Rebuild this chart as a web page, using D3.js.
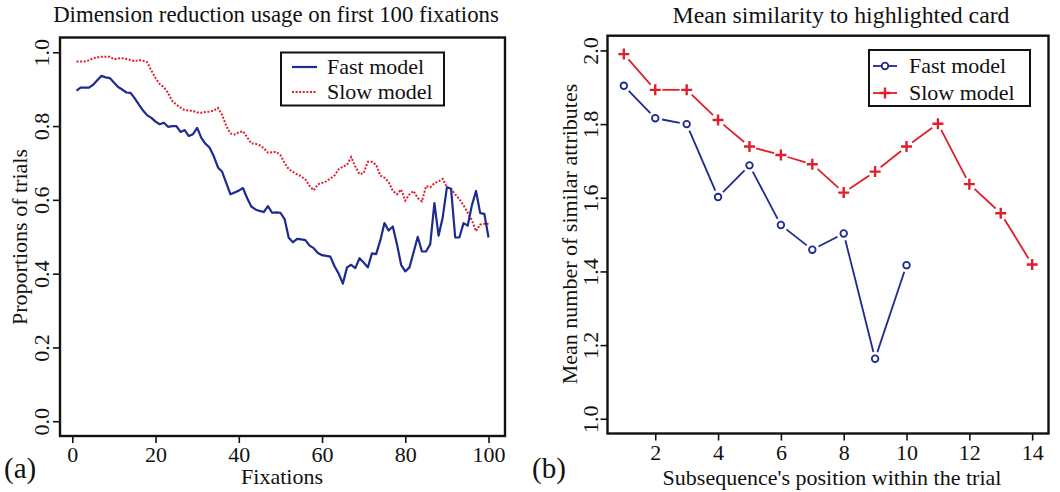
<!DOCTYPE html>
<html>
<head>
<meta charset="utf-8">
<script src="https://cdn.jsdelivr.net/npm/d3@7"></script>
<style>
  body { margin: 0; background: #fff; }
  svg text { font-family: "Liberation Serif", "Times New Roman", serif; fill: #111; }
</style>
</head>
<body>
<div id="chart"></div>
<script>
// ---- data (a): proportion of trials using dimension reduction, fixations 1..100
let fastProp = [
  0.896, 0.904, 0.904, 0.904, 0.912, 0.924, 0.936, 0.932, 0.930, 0.918,
  0.906, 0.899, 0.891, 0.890, 0.875, 0.858, 0.842, 0.829, 0.822, 0.812,
  0.805, 0.809, 0.798, 0.800, 0.800, 0.784, 0.789, 0.773, 0.778, 0.795,
  0.768, 0.752, 0.741, 0.718, 0.688, 0.676, 0.645, 0.615, 0.620, 0.625,
  0.632, 0.605, 0.582, 0.574, 0.570, 0.567, 0.583, 0.565, 0.566, 0.565,
  0.548, 0.497, 0.485, 0.494, 0.493, 0.491, 0.476, 0.469, 0.456, 0.450,
  0.448, 0.446, 0.420, 0.400, 0.373, 0.417, 0.424, 0.415, 0.442, 0.430,
  0.417, 0.455, 0.453, 0.490, 0.537, 0.517, 0.528, 0.480, 0.424, 0.406,
  0.417, 0.458, 0.500, 0.460, 0.460, 0.480, 0.591, 0.503, 0.553, 0.634,
  0.630, 0.498, 0.498, 0.537, 0.530, 0.585, 0.624, 0.564, 0.562, 0.498
];
let slowProp = [
  0.975, 0.975, 0.975, 0.978, 0.984, 0.986, 0.988, 0.988, 0.988, 0.981,
  0.983, 0.984, 0.982, 0.979, 0.976, 0.979, 0.977, 0.973, 0.950, 0.930,
  0.914, 0.905, 0.890, 0.868, 0.858, 0.850, 0.843, 0.842, 0.841, 0.837,
  0.836, 0.838, 0.839, 0.842, 0.849, 0.830, 0.800, 0.780, 0.777, 0.783,
  0.786, 0.770, 0.753, 0.752, 0.748, 0.740, 0.728, 0.729, 0.730, 0.721,
  0.700, 0.683, 0.676, 0.669, 0.664, 0.655, 0.638, 0.626, 0.642, 0.646,
  0.650, 0.658, 0.666, 0.683, 0.690, 0.695, 0.716, 0.690, 0.670, 0.672,
  0.703, 0.703, 0.695, 0.666, 0.660, 0.648, 0.625, 0.615, 0.628, 0.598,
  0.615, 0.624, 0.605, 0.596, 0.637, 0.634, 0.645, 0.650, 0.657, 0.634,
  0.630, 0.615, 0.602, 0.585, 0.565, 0.545, 0.515, 0.533, 0.535, 0.535
];
let propTicksX = [0, 20, 40, 60, 80, 100];
let propTicksY = [0, 0.2, 0.4, 0.6, 0.8, 1.0];

// ---- data (b): mean number of similar attributes by subsequence position
let fastSim = [1.904, 1.816, 1.800, 1.602, 1.688, 1.526, 1.459, 1.503, 1.163, 1.417];
let slowSim = [1.990, 1.893, 1.893, 1.811, 1.739, 1.716, 1.691, 1.614, 1.671, 1.739, 1.801, 1.637, 1.558, 1.419];
let simTicksX = [2, 4, 6, 8, 10, 12, 14];
let simTicksY = [1.0, 1.2, 1.4, 1.6, 1.8, 2.0];

const blue = "#1d2a8e";
const red = "#e01f2c";
const fs = 22;

let svg = d3.select("#chart").append("svg")
  .attr("width", 1060)
  .attr("height", 492);

// R pads the data range by 4% each side
function rpad(lo, hi) {
  let p = (hi - lo) * 0.04;
  return [lo - p, hi + p];
}

function frame(x, y, xTicks, yTicks, yFmt, yLabOff) {
  let g = svg.append("g");
  let [x0, x1] = x.range(), [y0, y1] = y.range();

  let ax = g.append("g")
    .attr("transform", `translate(0,${y0})`)
    .call(d3.axisBottom(x).tickValues(xTicks).tickSize(7).tickSizeOuter(0).tickFormat(d3.format("d")));
  ax.select(".domain").remove();
  ax.selectAll(".tick line").attr("stroke", "#111").attr("stroke-width", 1.6);
  ax.selectAll(".tick text")
    .attr("y", 26).attr("dy", 0)
    .style("font-size", fs + "px")
    .style("font-family", "Liberation Serif");

  let ay = g.append("g")
    .attr("transform", `translate(${x0},0)`)
    .call(d3.axisLeft(y).tickValues(yTicks).tickSize(7).tickSizeOuter(0).tickFormat(yFmt));
  ay.select(".domain").remove();
  ay.selectAll(".tick line").attr("stroke", "#111").attr("stroke-width", 1.6);
  ay.selectAll(".tick text")
    .attr("x", 0).attr("dy", 0)
    .attr("text-anchor", "middle")
    .attr("transform", `translate(${yLabOff},0) rotate(-90)`)
    .style("font-size", fs + "px")
    .style("font-family", "Liberation Serif");

  g.append("rect")
    .attr("x", x0).attr("y", y1)
    .attr("width", x1 - x0).attr("height", y0 - y1)
    .attr("fill", "none").attr("stroke", "#111").attr("stroke-width", 2.4);
  return g;
}

function label(txt, x, y, size, rot) {
  let t = svg.append("text")
    .attr("text-anchor", "middle")
    .style("font-size", size + "px")
    .text(txt);
  if (rot) t.attr("transform", `translate(${x},${y}) rotate(-90)`);
  else t.attr("x", x).attr("y", y);
  return t;
}

// ================= panel (a) =================
let xa = d3.scaleLinear().domain(rpad(1, 100)).range([60, 505]);
let ya = d3.scaleLinear().domain(rpad(0, 1)).range([436, 37.5]);

frame(xa, ya, propTicksX, propTicksY, d3.format(".1f"), -11);

let lineA = d3.line().x((d, i) => xa(i + 1)).y(d => ya(d));

svg.append("path")
  .datum(slowProp)
  .attr("d", lineA)
  .attr("fill", "none")
  .attr("stroke", red)
  .attr("stroke-width", 2)
  .attr("stroke-dasharray", "2,1.6");

svg.append("path")
  .datum(fastProp)
  .attr("d", lineA)
  .attr("fill", "none")
  .attr("stroke", blue)
  .attr("stroke-width", 2.2)
  .attr("stroke-linejoin", "round");

// legend (a)
let legA = svg.append("g");
legA.append("rect")
  .attr("x", 281).attr("y", 52.5).attr("width", 163).attr("height", 53)
  .attr("fill", "#fff").attr("stroke", "#111").attr("stroke-width", 2);
legA.append("line").attr("x1", 292).attr("x2", 317).attr("y1", 67).attr("y2", 67)
  .attr("stroke", blue).attr("stroke-width", 2.2);
legA.append("line").attr("x1", 292).attr("x2", 317).attr("y1", 92).attr("y2", 92)
  .attr("stroke", red).attr("stroke-width", 2).attr("stroke-dasharray", "2,1.6");
legA.append("text").attr("x", 327).attr("y", 74).style("font-size", fs + "px").text("Fast model");
legA.append("text").attr("x", 327).attr("y", 99).style("font-size", fs + "px").text("Slow model");

label("Dimension reduction usage on first 100 fixations", 276, 22, 22.8);
label("Fixations", 282, 484, fs);
label("Proportions of trials", 27, 237, fs, true);
svg.append("text").attr("x", 4).attr("y", 478).style("font-size", "29px").text("(a)");

// ================= panel (b) =================
let xb = d3.scaleLinear().domain(rpad(1, 14)).range([607.5, 1048.5]);
let yb = d3.scaleLinear().domain(rpad(1, 2)).range([433.5, 35.7]);

frame(xb, yb, simTicksX, simTicksY, d3.format(".1f"), -9.5);

// type = "b": segments with a gap around each point
function gapSegments(vals, color, gap) {
  let pts = vals.map((v, i) => [xb(i + 1), yb(v)]);
  let segs = d3.pairs(pts).map(([a, b]) => {
    let dx = b[0] - a[0], dy = b[1] - a[1], len = Math.hypot(dx, dy);
    let ux = dx / len, uy = dy / len;
    return [a[0] + ux * gap, a[1] + uy * gap, b[0] - ux * gap, b[1] - uy * gap];
  });
  svg.append("g").selectAll("line")
    .data(segs)
    .join("line")
    .attr("x1", d => d[0]).attr("y1", d => d[1])
    .attr("x2", d => d[2]).attr("y2", d => d[3])
    .attr("stroke", color).attr("stroke-width", 1.8);
  return pts;
}

let redPts = gapSegments(slowSim, red, 7);
let bluePts = gapSegments(fastSim, blue, 7);

function plus(g, x, y) {
  g.append("path")
    .attr("d", `M${x - 5.5},${y}H${x + 5.5}M${x},${y - 5.5}V${y + 5.5}`)
    .attr("stroke", red).attr("stroke-width", 2.4).attr("fill", "none");
}

let markers = svg.append("g");
redPts.forEach(p => plus(markers, p[0], p[1]));
markers.selectAll("circle")
  .data(bluePts)
  .join("circle")
  .attr("cx", d => d[0]).attr("cy", d => d[1]).attr("r", 3.3)
  .attr("fill", "#fff").attr("stroke", blue).attr("stroke-width", 1.8);

// legend (b)
let legB = svg.append("g");
legB.append("rect")
  .attr("x", 869).attr("y", 50).attr("width", 161).attr("height", 56)
  .attr("fill", "#fff").attr("stroke", "#111").attr("stroke-width", 2);
legB.append("line").attr("x1", 873).attr("x2", 897).attr("y1", 66).attr("y2", 66)
  .attr("stroke", blue).attr("stroke-width", 1.8);
legB.append("circle").attr("cx", 885).attr("cy", 66).attr("r", 3.3)
  .attr("fill", "#fff").attr("stroke", blue).attr("stroke-width", 1.8);
legB.append("line").attr("x1", 873).attr("x2", 897).attr("y1", 93).attr("y2", 93)
  .attr("stroke", red).attr("stroke-width", 1.8);
plus(legB, 885, 93);
legB.append("text").attr("x", 909).attr("y", 73).style("font-size", fs + "px").text("Fast model");
legB.append("text").attr("x", 909).attr("y", 100).style("font-size", fs + "px").text("Slow model");

label("Mean similarity to highlighted card", 841, 23, 23.8);
label("Subsequence's position within the trial", 832, 485, fs);
label("Mean number of similar attributes", 577, 234, fs, true);
svg.append("text").attr("x", 532).attr("y", 478).style("font-size", "29px").text("(b)");
</script>
</body>
</html>
